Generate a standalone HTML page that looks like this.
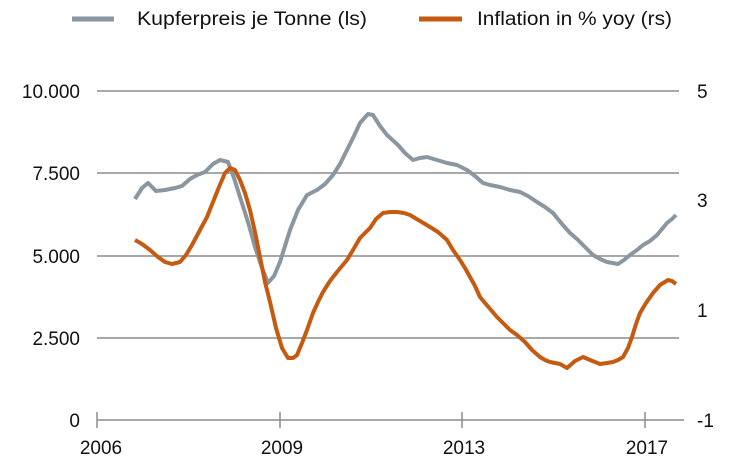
<!DOCTYPE html>
<html><head><meta charset="utf-8"><style>
body{margin:0;background:#fff;}
svg{display:block;font-family:"Liberation Sans",Arial,sans-serif;}
</style></head><body>
<svg width="730" height="469" viewBox="0 0 730 469">
<g stroke="#8c8c8c" stroke-width="1.5">
<line x1="97" y1="91" x2="679" y2="91"/>
<line x1="97" y1="173" x2="679" y2="173"/>
<line x1="97" y1="256" x2="679" y2="256"/>
<line x1="97" y1="338" x2="679" y2="338"/>
<line x1="97" y1="420" x2="684" y2="420"/>
<line x1="97" y1="412" x2="97" y2="428"/>
<line x1="280" y1="412" x2="280" y2="428"/>
<line x1="462" y1="412" x2="462" y2="428"/>
<line x1="645" y1="412" x2="645" y2="428"/>
</g>
<g font-size="19" fill="#111" text-anchor="end">
<text x="80" y="98">10.000</text>
<text x="80" y="180">7.500</text>
<text x="80" y="263">5.000</text>
<text x="80" y="345">2.500</text>
<text x="80" y="427">0</text>
</g>
<g font-size="19" fill="#111">
<text x="697" y="98">5</text>
<text x="697" y="207">3</text>
<text x="697" y="317">1</text>
<text x="697" y="427">-1</text>
</g>
<g font-size="19" fill="#111" text-anchor="middle">
<text x="101" y="454">2006</text>
<text x="282" y="454">2009</text>
<text x="464" y="454">2013</text>
<text x="647" y="454">2017</text>
</g>
<line x1="72" y1="19" x2="114" y2="19" stroke="#8a96a0" stroke-width="5"/>
<text x="137" y="25" font-size="19" fill="#111" textLength="230" lengthAdjust="spacingAndGlyphs">Kupferpreis je Tonne (ls)</text>
<line x1="419" y1="19" x2="462" y2="19" stroke="#c55a11" stroke-width="5"/>
<text x="477" y="25" font-size="19" fill="#111" textLength="195" lengthAdjust="spacingAndGlyphs">Inflation in % yoy (rs)</text>
<polyline fill="none" stroke="#8a96a0" stroke-width="4" stroke-linejoin="round" points="135,199 142,188 148,183 156,191 165,190 175,188 182,186 190,179 197,175 205,172 213,164 220,160 228,162 234,178 240,197 248,222 255,247 262,268 268,283 274,276 280,262 285,246 290,230 298,210 307,195 317,190 325,184 333,175 340,164 347,150 354,136 360,123 368,114 373,115 380,126 387,135 398,145 405,153 413,160 420,158 427,157 437,160 447,163 457,165 467,170 475,176 483,183 490,185 500,187 510,190 520,192 528,196 537,202 545,207 553,213 562,224 570,233 577,239 583,245 593,255 600,259 607,262 618,264 624,260 630,255 637,250 643,245 650,241 657,235 662,229 667,223 672,219 676,215"/>
<polyline fill="none" stroke="#c55a11" stroke-width="4" stroke-linejoin="round" points="135,240 142,244 150,250 158,257 165,262 172,264 180,262 186,255 192,245 200,230 207,217 213,202 219,187 225,173 230,168 235,170 240,180 245,193 250,210 255,232 260,257 265,282 270,302 276,328 282,348 288,358 293,358 297,355 302,343 307,330 313,313 318,302 323,292 330,281 337,272 342,266 347,260 353,250 360,238 365,233 370,228 376,219 383,213 390,212 397,212 404,213 410,215 420,221 430,227 438,232 447,240 453,250 460,260 465,268 470,277 475,286 480,297 485,303 491,310 497,317 503,323 510,330 517,335 525,342 532,350 540,357 545,360 550,362 560,364 567,368 575,361 583,357 590,360 600,364 607,363 613,362 618,360 623,357 628,348 632,337 636,324 640,313 646,303 653,293 660,285 668,280 672,281 676,284"/>
</svg>
</body></html>
